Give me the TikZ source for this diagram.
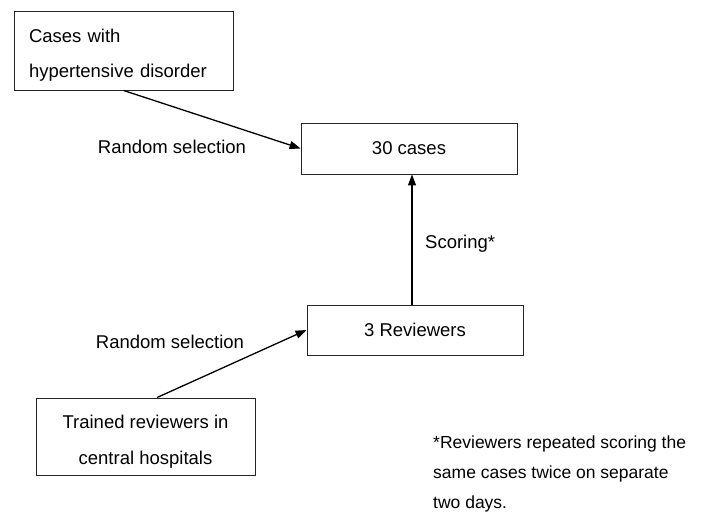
\documentclass[tikz,border=0pt]{standalone}
\usepackage{fontspec}
\setmainfont{Liberation Sans}
\usetikzlibrary{arrows.meta,calc}
\begin{document}
\begin{tikzpicture}[x=1pt,y=1pt,
 box/.style={draw=black!85, line width=0.9pt, inner sep=0pt, font=\fontsize{18.5}{35.5}\selectfont},
 arr/.style={line width=1.3pt, -{Triangle[length=11pt,width=8pt]}},
 lbl/.style={font=\fontsize{18.5}{22}\selectfont, inner sep=0pt}]
\useasboundingbox (0,0) rectangle (704,-517);
\node[box, minimum width=219, minimum height=79, text width=189, align=left] (b1) at (123.5,-50.5) {\rule{0pt}{23pt}Cases with\\hypertensive disorder};
\node[box, minimum width=216, minimum height=51] (b2) at (409,-148.5) {30 cases};
\node[box, minimum width=216, minimum height=50] (b3) at (415,-330) {3 Reviewers};
\node[box, minimum width=219, minimum height=77, align=center] (b4) at (145.5,-436.5) {\rule{0pt}{24pt}Trained reviewers in\\central hospitals};
\node[lbl] (l1) at (172,-147) {Random selection};
\node[lbl] (l2) at (170,-342) {Random selection};
\node[lbl, anchor=west] (l3) at (425,-244) {Scoring*};
\node[anchor=north west, inner sep=0pt, align=left, font=\fontsize{17.5}{30}\selectfont] (note) at (433,-435.5) {*Reviewers repeated scoring the\\same cases twice on separate\\two days.};
\coordinate (sc) at ($(b2.south)+(3,0)$);
\draw[arr] (b1.south) -- (b2.west);
\draw[arr] (b3.north -| sc) -- (sc);
\draw[arr] ($(b4.north)+(11.5,0)$) -- (b3.west);
\end{tikzpicture}
\end{document}
